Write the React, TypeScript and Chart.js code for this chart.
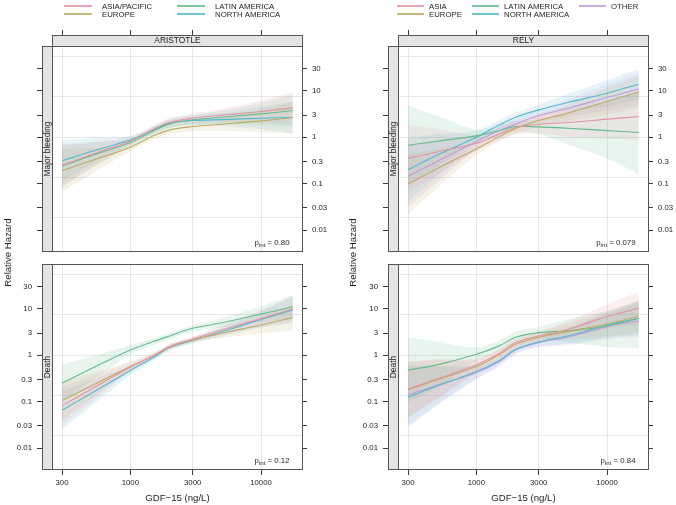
import React, { useEffect, useRef } from "react";
import { Chart, registerables } from "chart.js";

Chart.register(...registerables);

// ---------------- data ----------------
const GDF15 = [300, 500, 1000, 1500, 2000, 3000, 5000, 10000, 17500];
const X_TICKS = [300, 1000, 3000, 10000];
const Y_TICKS = [0.01, 0.03, 0.1, 0.3, 1, 3, 10, 30];
const Y_GRID = [0.0183, 0.1353, 1, 7.389, 54.6];

const ARISTOTLE_REGIONS = ["ASIA/PACIFIC", "EUROPE", "LATIN AMERICA", "NORTH AMERICA"];
const RELY_REGIONS = ["ASIA", "EUROPE", "LATIN AMERICA", "NORTH AMERICA", "OTHER"];
const REGION_COLORS = ["#E495A5", "#BDAB66", "#65BC8C", "#55B8D0", "#C29DDE"];

const STUDIES = ["ARISTOTLE", "RELY"];
const OUTCOMES = ["Major bleeding", "Death"];
const P_ARISTOTLE = ["0.80", "0.12"];
const P_RELY = ["0.079", "0.84"];

// ARISTOTLE – Major bleeding (ASIA/PACIFIC, EUROPE, LATIN AMERICA, NORTH AMERICA)
const ARISTOTLE_BLEED_FIT = [
  [0.25, 0.42, 0.83, 1.49, 2.1, 2.57, 2.98, 3.58, 4.3],
  [0.19, 0.31, 0.61, 1.07, 1.44, 1.7, 1.91, 2.25, 2.66],
  [0.24, 0.4, 0.77, 1.37, 1.94, 2.37, 2.7, 3.19, 3.76],
  [0.31, 0.49, 0.88, 1.44, 2.0, 2.29, 2.4, 2.57, 2.66],
];
const ARISTOTLE_BLEED_LO = [
  [0.089, 0.22, 0.67, 1.24, 1.71, 2.04, 2.16, 2.06, 1.96],
  [0.067, 0.16, 0.5, 0.89, 1.17, 1.35, 1.38, 1.29, 1.21],
  [0.085, 0.21, 0.63, 1.14, 1.58, 1.88, 1.96, 1.83, 1.72],
  [0.11, 0.26, 0.72, 1.2, 1.63, 1.82, 1.74, 1.48, 1.21],
];
const ARISTOTLE_BLEED_HI = [
  [0.71, 0.8, 1.02, 1.79, 2.58, 3.24, 4.11, 6.23, 9.4],
  [0.54, 0.59, 0.75, 1.28, 1.77, 2.14, 2.64, 3.92, 5.8],
  [0.68, 0.76, 0.95, 1.64, 2.38, 2.98, 3.73, 5.55, 8.2],
  [0.87, 0.94, 1.08, 1.73, 2.46, 2.89, 3.31, 4.47, 5.8],
];

// ARISTOTLE – Death
const ARISTOTLE_DEATH_FIT = [
  [0.082, 0.184, 0.55, 0.97, 1.54, 2.21, 3.5, 6.2, 10.0],
  [0.106, 0.217, 0.57, 0.97, 1.49, 2.13, 2.97, 4.5, 6.45],
  [0.25, 0.51, 1.3, 1.97, 2.6, 3.8, 5.0, 7.7, 11.1],
  [0.065, 0.15, 0.47, 0.89, 1.46, 2.07, 3.2, 5.9, 9.5],
];
const ARISTOTLE_DEATH_LO = [
  [0.031, 0.096, 0.44, 0.83, 1.34, 1.92, 2.78, 4.1, 5.2],
  [0.04, 0.114, 0.45, 0.83, 1.3, 1.85, 2.36, 2.98, 3.38],
  [0.1, 0.28, 1.03, 1.64, 2.22, 3.25, 3.97, 5.2, 6.2],
  [0.025, 0.079, 0.37, 0.76, 1.27, 1.8, 2.54, 3.9, 5.0],
];
const ARISTOTLE_DEATH_HI = [
  [0.216, 0.35, 0.69, 1.13, 1.77, 2.54, 4.41, 9.4, 19.0],
  [0.28, 0.41, 0.72, 1.13, 1.71, 2.45, 3.74, 6.8, 12.3],
  [0.63, 0.93, 1.64, 2.36, 3.04, 4.45, 6.3, 11.4, 19.8],
  [0.171, 0.29, 0.59, 1.04, 1.68, 2.38, 4.03, 8.9, 18.1],
];

// RELY – Major bleeding (ASIA, EUROPE, LATIN AMERICA, NORTH AMERICA, OTHER)
const RELY_BLEED_FIT = [
  [0.35, 0.48, 0.74, 1.18, 1.62, 1.91, 2.07, 2.45, 2.79],
  [0.098, 0.21, 0.56, 1.03, 1.54, 2.29, 3.3, 5.9, 9.5],
  [0.67, 0.82, 1.07, 1.39, 1.7, 1.67, 1.56, 1.39, 1.26],
  [0.2, 0.41, 1.0, 1.85, 2.7, 3.89, 5.6, 8.9, 13.9],
  [0.146, 0.3, 0.81, 1.39, 1.94, 2.89, 4.2, 7.2, 11.0],
];
const RELY_BLEED_LO = [
  [0.067, 0.152, 0.49, 0.86, 1.15, 1.21, 1.04, 0.93, 0.88],
  [0.022, 0.08, 0.41, 0.82, 1.22, 1.73, 2.19, 3.09, 4.34],
  [0.095, 0.23, 0.78, 1.05, 1.29, 1.15, 0.7, 0.35, 0.162],
  [0.042, 0.145, 0.72, 1.47, 2.14, 2.95, 3.71, 4.66, 6.5],
  [0.032, 0.106, 0.57, 1.08, 1.5, 2.14, 2.71, 3.77, 5.0],
];
const RELY_BLEED_HI = [
  [1.84, 1.52, 1.12, 1.63, 2.28, 3.02, 4.14, 6.4, 8.8],
  [0.43, 0.55, 0.77, 1.3, 1.94, 3.02, 4.98, 11.3, 20.8],
  [4.74, 2.91, 1.48, 1.83, 2.24, 2.42, 3.49, 5.53, 9.8],
  [0.96, 1.16, 1.38, 2.33, 3.4, 5.1, 8.5, 17.0, 29.7],
  [0.67, 0.85, 1.14, 1.79, 2.5, 3.9, 6.5, 13.8, 24.1],
];

// RELY – Death
const RELY_DEATH_FIT = [
  [0.186, 0.31, 0.62, 1.1, 1.87, 2.6, 3.6, 6.8, 10.3],
  [0.18, 0.295, 0.57, 1.02, 1.72, 2.44, 3.23, 4.72, 7.0],
  [0.48, 0.62, 1.05, 1.59, 2.44, 3.07, 3.34, 4.27, 6.25],
  [0.125, 0.216, 0.445, 0.77, 1.35, 1.94, 2.6, 4.42, 6.25],
  [0.14, 0.226, 0.42, 0.73, 1.3, 1.87, 2.44, 4.13, 5.5],
];
const RELY_DEATH_LO = [
  [0.047, 0.118, 0.45, 0.87, 1.52, 2.06, 2.43, 3.66, 4.6],
  [0.045, 0.112, 0.41, 0.81, 1.4, 1.94, 2.18, 2.54, 3.13],
  [0.096, 0.196, 0.74, 1.2, 1.85, 2.33, 1.88, 1.51, 1.4],
  [0.028, 0.082, 0.32, 0.61, 1.1, 1.54, 1.76, 2.38, 2.79],
  [0.031, 0.086, 0.3, 0.58, 1.06, 1.48, 1.65, 2.22, 2.46],
];
const RELY_DEATH_HI = [
  [0.74, 0.82, 0.86, 1.39, 2.3, 3.28, 5.33, 12.6, 23.1],
  [0.72, 0.78, 0.79, 1.29, 2.12, 3.07, 4.78, 8.8, 15.7],
  [2.4, 1.96, 1.48, 2.1, 3.22, 4.05, 5.95, 9.0, 15.0],
  [0.56, 0.57, 0.61, 0.97, 1.66, 2.44, 3.85, 8.2, 14.0],
  [0.63, 0.59, 0.58, 0.92, 1.6, 2.36, 3.61, 7.7, 12.3],
];

const X_TITLE = "GDF\u221215 (ng/L)";
const Y_TITLE = "Relative Hazard";

// ---------------- layout / style ----------------
const W = 676;
const H = 505;
const FONT = '"Liberation Sans", Arial, Helvetica, sans-serif';
const TEXT = "#1e1e1e";
const FRAME = "#555555";
const STRIP_BG = "#E4E4E4";
const GRID = "#E6E6E6";
const TICK = "#3a3a3a";
const COL_PLOT_LEFT = [52, 398];
const ROW_PLOT_TOP = [46, 264];
const PLOT_W = 251;
const PLOT_H = 206;
const LSTRIP = 10;
const TSTRIP = 11;
const X_DEC_PX = 130.7;
const Y_DEC_PX = 46.4;
const X_FIRST_OFFSET = 10; // px from plot left edge to 300
const LOG_AT_PLOT_TOP = 1.966;

const LEGEND_COLS = [
  [
    { x0: 64, x1: 92, tx: 102 },
    { x0: 177, x1: 205, tx: 215 },
  ],
  [
    { x0: 397, x1: 424, tx: 429 },
    { x0: 472, x1: 499, tx: 504 },
    { x0: 579, x1: 606, tx: 611 },
  ],
];
const LEGEND_ROW_Y = [6, 14];

type PanelSpec = {
  col: number;
  row: number;
  study: string;
  outcome: string;
  regions: string[];
  fit: number[][];
  lo: number[][];
  hi: number[][];
  p: string;
};

const PANELS: PanelSpec[] = [
  { col: 0, row: 0, study: STUDIES[0], outcome: OUTCOMES[0], regions: ARISTOTLE_REGIONS, fit: ARISTOTLE_BLEED_FIT, lo: ARISTOTLE_BLEED_LO, hi: ARISTOTLE_BLEED_HI, p: P_ARISTOTLE[0] },
  { col: 1, row: 0, study: STUDIES[1], outcome: OUTCOMES[0], regions: RELY_REGIONS, fit: RELY_BLEED_FIT, lo: RELY_BLEED_LO, hi: RELY_BLEED_HI, p: P_RELY[0] },
  { col: 0, row: 1, study: STUDIES[0], outcome: OUTCOMES[1], regions: ARISTOTLE_REGIONS, fit: ARISTOTLE_DEATH_FIT, lo: ARISTOTLE_DEATH_LO, hi: ARISTOTLE_DEATH_HI, p: P_ARISTOTLE[1] },
  { col: 1, row: 1, study: STUDIES[1], outcome: OUTCOMES[1], regions: RELY_REGIONS, fit: RELY_DEATH_FIT, lo: RELY_DEATH_LO, hi: RELY_DEATH_HI, p: P_RELY[1] },
];

function rgba(hex: string, a: number) {
  const n = parseInt(hex.slice(1), 16);
  return `rgba(${(n >> 16) & 255},${(n >> 8) & 255},${n & 255},${a})`;
}

function decorPlugin(spec: PanelSpec) {
  const L = COL_PLOT_LEFT[spec.col];
  const T = ROW_PLOT_TOP[spec.row];
  const R = L + PLOT_W;
  const B = T + PLOT_H;
  return {
    id: "latticeDecor",
    afterDraw(chart: any) {
      const ctx: CanvasRenderingContext2D = chart.ctx;
      ctx.save();
      ctx.lineWidth = 1;
      ctx.strokeStyle = FRAME;
      // left strip
      ctx.fillStyle = STRIP_BG;
      ctx.fillRect(L - LSTRIP, T, LSTRIP, PLOT_H);
      ctx.strokeRect(L - LSTRIP + 0.5, T + 0.5, LSTRIP, PLOT_H - 1);
      ctx.fillStyle = TEXT;
      ctx.font = `8.4px ${FONT}`;
      ctx.textAlign = "center";
      ctx.textBaseline = "middle";
      ctx.save();
      ctx.translate(L - LSTRIP / 2 + 0.5, T + PLOT_H / 2);
      ctx.rotate(-Math.PI / 2);
      ctx.fillText(spec.outcome, 0, 0);
      ctx.restore();
      // top strip
      if (spec.row === 0) {
        ctx.fillStyle = STRIP_BG;
        ctx.fillRect(L, T - TSTRIP, PLOT_W, TSTRIP);
        ctx.strokeRect(L + 0.5, T - TSTRIP + 0.5, PLOT_W - 1, TSTRIP);
        ctx.fillStyle = TEXT;
        ctx.font = `8.4px ${FONT}`;
        ctx.fillText(spec.study, L + PLOT_W / 2, T - TSTRIP / 2 + 0.5);
      }
      // panel frame
      ctx.strokeStyle = FRAME;
      ctx.strokeRect(L + 0.5, T + 0.5, PLOT_W - 1, PLOT_H - 1);

      // p_int label
      ctx.fillStyle = TEXT;
      ctx.textAlign = "left";
      ctx.textBaseline = "alphabetic";
      const mainFont = `7.8px ${FONT}`;
      const subFont = `6.2px ${FONT}`;
      ctx.font = mainFont;
      const rest = ` = ${spec.p}`;
      const wP = ctx.measureText("p").width;
      const wRest = ctx.measureText(rest).width;
      ctx.font = subFont;
      const wSub = ctx.measureText("int").width;
      const right = R - 13.5;
      const base = B - 7;
      let x = right - wRest - wSub - wP;
      ctx.font = mainFont;
      ctx.fillText("p", x, base);
      x += wP;
      ctx.font = subFont;
      ctx.fillText("int", x, base + 1.8);
      x += wSub;
      ctx.font = mainFont;
      ctx.fillText(rest, x, base);

      if (spec.row === 0) {
        // legend
        const cols = LEGEND_COLS[spec.col];
        ctx.font = `7.8px ${FONT}`;
        ctx.textBaseline = "middle";
        spec.regions.forEach((name, i) => {
          const c = cols[Math.floor(i / 2)];
          const y = LEGEND_ROW_Y[i % 2];
          ctx.strokeStyle = rgba(REGION_COLORS[i], 0.85);
          ctx.lineWidth = 2;
          ctx.beginPath();
          ctx.moveTo(c.x0, y);
          ctx.lineTo(c.x1, y);
          ctx.stroke();
          ctx.fillStyle = TEXT;
          ctx.fillText(name, c.tx, y + 0.5);
        });
      } else {
        // x axis title
        ctx.font = `9.6px ${FONT}`;
        ctx.textAlign = "center";
        ctx.textBaseline = "middle";
        ctx.fillStyle = TEXT;
        ctx.fillText(X_TITLE, L + PLOT_W / 2, 498.5);
        // y axis title (one per column)
        ctx.save();
        ctx.translate(spec.col === 0 ? 8 : 353.5, (ROW_PLOT_TOP[0] - TSTRIP + ROW_PLOT_TOP[1] + PLOT_H) / 2);
        ctx.rotate(-Math.PI / 2);
        ctx.fillText(Y_TITLE, 0, 0);
        ctx.restore();
      }
      ctx.restore();
    },
  };
}

function buildConfig(spec: PanelSpec): any {
  const L = COL_PLOT_LEFT[spec.col];
  const T = ROW_PLOT_TOP[spec.row];
  const chartLeft = L - LSTRIP;
  const chartRight = L + PLOT_W;
  const chartTop = spec.row === 0 ? T - TSTRIP : T;
  const chartBottom = T + PLOT_H;

  // axis box sizes (labels are clipped to these boxes)
  const leftBox = spec.row === 1 ? 34 : 5;
  const rightBox = spec.row === 0 ? 30 : 5;
  const xBox = spec.row === 1 ? 20 : 5;

  const log300 = Math.log10(300);
  const xMin = Math.pow(10, log300 - (X_FIRST_OFFSET + LSTRIP) / X_DEC_PX);
  const xMax = Math.pow(10, log300 + (PLOT_W - X_FIRST_OFFSET) / X_DEC_PX);
  const yMin = Math.pow(10, LOG_AT_PLOT_TOP - PLOT_H / Y_DEC_PX);
  const yMax = Math.pow(10, LOG_AT_PLOT_TOP + (spec.row === 0 ? TSTRIP / Y_DEC_PX : 0));

  const curve = { tension: 0.35, cubicInterpolationMode: "default" };

  const datasets: any[] = [];
  spec.regions.forEach((name, i) => {
    const color = REGION_COLORS[i];
    datasets.push({
      label: `${name} upper`,
      data: GDF15.map((x, k) => ({ x, y: spec.hi[i][k] })),
      borderWidth: 0,
      borderColor: "transparent",
      backgroundColor: rgba(color, 0.15),
      pointRadius: 0,
      fill: "+1",
      order: 1,
      ...curve,
    });
    datasets.push({
      label: `${name} lower`,
      data: GDF15.map((x, k) => ({ x, y: spec.lo[i][k] })),
      borderWidth: 0,
      borderColor: "transparent",
      backgroundColor: "transparent",
      pointRadius: 0,
      fill: false,
      order: 1,
      ...curve,
    });
  });
  spec.regions.forEach((name, i) => {
    datasets.push({
      label: name,
      data: GDF15.map((x, k) => ({ x, y: spec.fit[i][k] })),
      borderWidth: 1.1,
      borderColor: REGION_COLORS[i],
      backgroundColor: REGION_COLORS[i],
      pointRadius: 0,
      fill: false,
      order: 0,
      ...curve,
    });
  });

  const tickFont = { family: FONT, size: 7.8 };

  return {
    type: "line",
    data: { datasets },
    options: {
      animation: false,
      responsive: false,
      devicePixelRatio: 1,
      events: [],
      layout: {
        autoPadding: false,
        padding: {
          left: chartLeft - leftBox,
          right: W - chartRight - rightBox,
          top: spec.row === 0 ? chartTop - xBox : chartTop,
          bottom: spec.row === 1 ? H - chartBottom - xBox : H - chartBottom,
        },
      },
      plugins: {
        legend: { display: false },
        tooltip: { enabled: false },
        filler: { propagate: false, drawTime: "beforeDatasetsDraw" },
      },
      scales: {
        x: {
          type: "logarithmic",
          position: spec.row === 0 ? "top" : "bottom",
          min: xMin,
          max: xMax,
          bounds: "data",
          afterBuildTicks: (s: any) => {
            s.ticks = X_TICKS.map((v) => ({ value: v }));
          },
          afterFit: (s: any) => {
            s.height = xBox;
          },
          ticks: {
            display: spec.row === 1,
            autoSkip: false,
            maxRotation: 0,
            padding: 3,
            color: TEXT,
            font: tickFont,
            callback: (v: number) => String(v),
          },
          grid: { color: GRID, lineWidth: 1, drawTicks: true, tickLength: 5, tickColor: TICK, tickWidth: 1 },
          border: { display: false },
        },
        y: {
          type: "logarithmic",
          position: "left",
          min: yMin,
          max: yMax,
          bounds: "data",
          afterBuildTicks: (s: any) => {
            s.ticks = Y_TICKS.map((v) => ({ value: v }));
          },
          afterFit: (s: any) => {
            s.width = leftBox;
          },
          ticks: {
            display: spec.row === 1,
            autoSkip: false,
            padding: 5,
            color: TEXT,
            font: tickFont,
            callback: (v: number) => String(v),
          },
          grid: { drawOnChartArea: false, drawTicks: true, tickLength: 5, tickColor: TICK, tickWidth: 1 },
          border: { display: false },
        },
        y2: {
          type: "logarithmic",
          axis: "y",
          position: "right",
          min: yMin,
          max: yMax,
          bounds: "data",
          afterBuildTicks: (s: any) => {
            s.ticks = Y_TICKS.map((v) => ({ value: v }));
          },
          afterFit: (s: any) => {
            s.width = rightBox;
          },
          ticks: {
            display: spec.row === 0,
            autoSkip: false,
            padding: 5,
            color: TEXT,
            font: tickFont,
            callback: (v: number) => String(v),
          },
          grid: { drawOnChartArea: false, drawTicks: true, tickLength: 4, tickColor: TICK, tickWidth: 1 },
          border: { display: false },
        },
        yg: {
          type: "logarithmic",
          axis: "y",
          position: "left",
          min: yMin,
          max: yMax,
          bounds: "data",
          afterBuildTicks: (s: any) => {
            s.ticks = Y_GRID.map((v) => ({ value: v }));
          },
          afterFit: (s: any) => {
            s.width = 0;
          },
          ticks: { display: false },
          grid: { color: GRID, lineWidth: 1, drawTicks: false },
          border: { display: false },
        },
      },
    },
    plugins: [decorPlugin(spec)],
  };
}

function Panel({ spec }: { spec: PanelSpec }) {
  const ref = useRef<HTMLCanvasElement | null>(null);
  useEffect(() => {
    if (!ref.current) return;
    const chart = new Chart(ref.current, buildConfig(spec));
    return () => chart.destroy();
  }, [spec]);
  return (
    <canvas
      ref={ref}
      width={W}
      height={H}
      style={{ position: "absolute", left: 0, top: 0, width: W, height: H, pointerEvents: "none" }}
    />
  );
}

export default function App() {
  return (
    <div style={{ position: "fixed", left: 0, top: 0, width: W, height: H, background: "#ffffff", overflow: "hidden" }}>
      {PANELS.map((p, i) => (
        <Panel key={i} spec={p} />
      ))}
    </div>
  );
}
